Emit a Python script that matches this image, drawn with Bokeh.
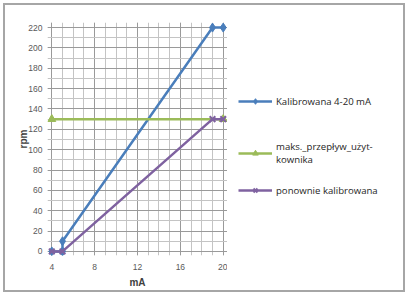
from bokeh.plotting import figure
from bokeh.layouts import row
from bokeh.models import Legend, LegendItem, SingleIntervalTicker, Range1d
from bokeh.embed import file_html
from bokeh.resources import INLINE

# data
kal_x = [4, 5, 5, 19, 20]
kal_y = [0, 0, 10, 220, 220]
maks_x = [4, 20]
maks_y = [130, 130]
pon_x = [4, 5, 19, 20]
pon_y = [0, 0, 130, 130]
x_label = "mA"
y_label = "rpm"
names = ["Kalibrowana 4-20 mA", "maks._przepływ_użyt-\nkownika", "ponownie kalibrowana"]

BLUE = "#4a7ebb"
GREEN = "#9bbb59"
PURPLE = "#7f62a0"

p = figure(width=222, height=285, output_backend="svg", toolbar_location=None,
           x_range=Range1d(3.6, 20.4), y_range=Range1d(-4, 225),
           min_border_left=42, min_border_right=0, min_border_top=17, min_border_bottom=26)
p.outline_line_color = None
p.background_fill_color = "white"
p.border_fill_color = "white"

p.xaxis.ticker = SingleIntervalTicker(interval=4, num_minor_ticks=4)
p.yaxis.ticker = SingleIntervalTicker(interval=20, num_minor_ticks=2)
for ax in (p.xaxis[0], p.yaxis[0]):
    ax.axis_line_color = None
    ax.major_tick_line_color = None
    ax.minor_tick_line_color = None
    ax.major_label_text_font = "Liberation Sans"
    ax.major_label_text_font_size = "8.5px"
    ax.major_label_text_color = "#595959"
    ax.axis_label_text_font = "Liberation Sans"
    ax.axis_label_text_font_style = "bold"
    ax.axis_label_text_font_size = "10px"
    ax.axis_label_text_color = "#404040"
p.xaxis.major_label_standoff = 2
p.xaxis.axis_label_standoff = 4
p.yaxis.major_label_standoff = -1
p.yaxis.axis_label_standoff = -4
p.xaxis.axis_label = x_label
p.yaxis.axis_label = y_label

for g in (p.xgrid[0], p.ygrid[0]):
    g.grid_line_color = "#9a9a9a"
    g.grid_line_width = 1
    g.minor_grid_line_color = "#c4c4c4"
    g.minor_grid_line_width = 1

p.line(kal_x, kal_y, line_color=BLUE, line_width=2.5)
p.scatter(kal_x, kal_y, marker="diamond", size=9, fill_color=BLUE, line_color=BLUE)
p.line(maks_x, maks_y, line_color=GREEN, line_width=2.5)
p.scatter(maks_x, maks_y, marker="triangle", size=8, fill_color=GREEN, line_color=GREEN)
p.line(pon_x, pon_y, line_color=PURPLE, line_width=2.5)
p.scatter(pon_x, pon_y, marker="x", size=8, line_color=PURPLE, line_width=2)

# legend panel (same series, viewed outside their range so only the legend shows)
lg = figure(width=176, height=285, output_backend="svg", toolbar_location=None,
            x_range=Range1d(100, 101), y_range=Range1d(1000, 1001), min_border=0)
lg.axis.visible = False
lg.grid.visible = False
lg.outline_line_color = None
lg.border_fill_color = "white"
l1 = lg.line(kal_x, kal_y, line_color=BLUE, line_width=2.5)
k1 = lg.scatter(kal_x, kal_y, marker="diamond", size=9, fill_color=BLUE, line_color=BLUE)
l2 = lg.line(maks_x, maks_y, line_color=GREEN, line_width=2.5)
k2 = lg.scatter(maks_x, maks_y, marker="triangle", size=8, fill_color=GREEN, line_color=GREEN)
l3 = lg.line(pon_x, pon_y, line_color=PURPLE, line_width=2.5)
k3 = lg.scatter(pon_x, pon_y, marker="x", size=8, line_color=PURPLE, line_width=2)

for lab, rs, loc in [(names[0], [l1, k1], (11, 147)),
                     (names[1], [l2, k2], (11, 89)),
                     (names[2], [l3, k3], (11, 58))]:
    leg = Legend(items=[LegendItem(label=lab, renderers=rs)],
                 location=loc, label_text_font="Open Sans", label_text_font_size="9.6px",
                 label_text_color="#262626", glyph_width=34, glyph_height=14,
                 padding=0, margin=0, border_line_color=None,
                 background_fill_alpha=0, label_standoff=4, label_text_line_height=1.25)
    lg.add_layout(leg, "center")

layout = row(p, lg, styles={"border": "2px solid #a6a6a6", "margin": "3px"})

open("out.html", "w").write(file_html(layout, INLINE))
